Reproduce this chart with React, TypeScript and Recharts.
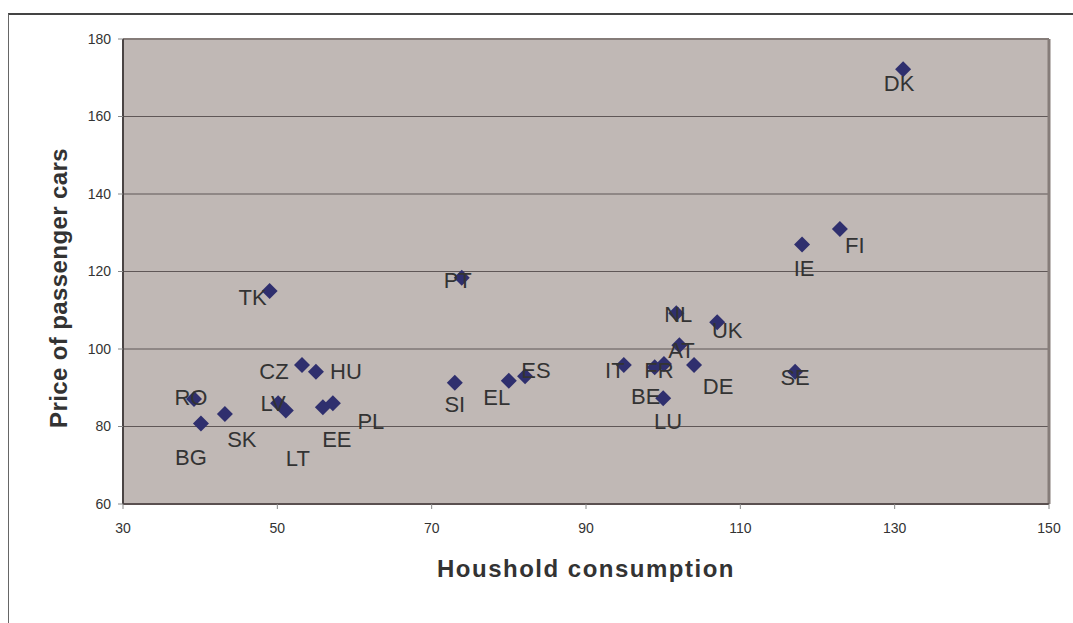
import { ScatterChart, Scatter, XAxis, YAxis, CartesianGrid, ReferenceLine, LabelList, Label } from "recharts";

const countries = ["TK", "CZ", "HU", "RO", "BG", "SK", "LV", "LT", "EE", "PL", "PT", "SI", "EL", "ES", "IT", "BE", "FR", "LU", "NL", "AT", "DE", "UK", "SE", "DK", "FI", "IE"];
const consumption = [49, 53.2, 55, 39.2, 40.1, 43.2, 50.1, 51.1, 55.9, 57.2, 73.9, 73, 80, 82.1, 94.9, 98.9, 100.1, 100, 101.7, 102.1, 104, 107, 117.1, 131.1, 122.9, 118];
const carPrice = [115, 95.9, 94.1, 87.1, 80.8, 83.2, 86, 84.1, 85, 86, 118.4, 91.3, 91.8, 93, 95.9, 95.3, 96.1, 87.3, 109.2, 101, 95.9, 106.9, 94.1, 172.2, 131, 127];
const xTicks = [30, 50, 70, 90, 110, 130, 150];
const yTicks = [60, 80, 100, 120, 140, 160, 180];

const data = countries.map((code, i) => ({ code, x: consumption[i], y: carPrice[i] }));

// labels were hand-placed in the original, so nudge each one (px from marker centre)
const nudge: Record<string, [number, number]> = {
  TK: [-17, 6], CZ: [-28, 6], HU: [30, -1], RO: [-3, -2], BG: [-10, 34],
  SK: [17, 25], LV: [-5, 0], LT: [12, 47], EE: [14, 32], PL: [38, 18],
  PT: [-4, 2], SI: [0, 21], EL: [-12, 16], ES: [11, -6], IT: [-9, 5],
  FR: [-5, 6], BE: [-9, 29], LU: [5, 23], NL: [2, 1], AT: [2, 5],
  DE: [24, 21], UK: [10, 8], SE: [0, 5], DK: [-4, 14], FI: [15, 16], IE: [2, 24],
};

const font = '"Liberation Sans", Arial, sans-serif';

function Diamond(props: any) {
  const { cx, cy } = props;
  const r = 8;
  return (
    <polygon
      points={`${cx},${cy - r} ${cx + r},${cy} ${cx},${cy + r} ${cx - r},${cy}`}
      fill="#2f2f6e"
    />
  );
}

function CountryLabel(props: any) {
  const vb = props.viewBox ?? props;
  const cx = vb.x + (vb.width ?? 0) / 2;
  const cy = vb.y + (vb.height ?? 0) / 2;
  const [dx, dy] = nudge[props.value] ?? [12, 0];
  return (
    <text x={cx + dx} y={cy + dy + 8} textAnchor="middle" fontSize={22} fill="#333" fontFamily={font}>
      {props.value}
    </text>
  );
}

function XTitle(props: any) {
  const vb = props.viewBox ?? { x: 123, y: 504, width: 926 };
  return (
    <text
      x={vb.x + vb.width / 2}
      y={vb.y + 73}
      textAnchor="middle"
      fontSize={24}
      fontWeight="bold"
      letterSpacing={1.5}
      fill="#333"
      fontFamily={font}
    >
      Houshold consumption
    </text>
  );
}

function YTitle() {
  return (
    <text
      x={67}
      y={288}
      transform="rotate(-90, 67, 288)"
      textAnchor="middle"
      fontSize={24}
      fontWeight="bold"
      letterSpacing={0.4}
      fill="#333"
      fontFamily={font}
    >
      Price of passenger cars
    </text>
  );
}

export default function App() {
  return (
    <div style={{ position: "absolute", left: 0, top: 0, width: 1073, height: 623, background: "#fff", fontFamily: font }}>
      <div
        style={{
          position: "absolute",
          left: 8,
          top: 13,
          width: 1065,
          height: 610,
          borderTop: "2px solid #444",
          borderLeft: "1px solid #666",
          boxSizing: "border-box",
        }}
      />
      <div style={{ position: "absolute", left: 0, top: 0 }}>
        <ScatterChart width={1073} height={623} margin={{ top: 39, right: 24, bottom: 89, left: 0 }}>
          <CartesianGrid vertical={false} stroke="#5f5757" fill="#c0b8b5" fillOpacity={1} />
          <XAxis
            type="number"
            dataKey="x"
            domain={[30, 150]}
            ticks={xTicks}
            height={30}
            tickSize={5}
            tickMargin={14}
            tick={{ fontSize: 14, fill: "#333", fontFamily: font }}
            stroke="#5a5050"
            strokeWidth={2}
            tickLine={{ stroke: "#888", strokeWidth: 1 }}
          >
            <Label content={XTitle} />
          </XAxis>
          <YAxis
            type="number"
            dataKey="y"
            domain={[60, 180]}
            ticks={yTicks}
            width={123}
            tickSize={5}
            tickMargin={7}
            tick={{ fontSize: 14, fill: "#333", fontFamily: font }}
            stroke="#4a4444"
            strokeWidth={2}
            tickLine={{ stroke: "#888", strokeWidth: 1 }}
          >
            <Label content={YTitle} />
          </YAxis>
          <ReferenceLine y={180} stroke="#857c79" strokeWidth={2} />
          <ReferenceLine x={150} stroke="#857c79" strokeWidth={3} />
          <Scatter data={data} shape={Diamond} isAnimationActive={false}>
            <LabelList dataKey="code" content={CountryLabel} />
          </Scatter>
        </ScatterChart>
      </div>
    </div>
  );
}
